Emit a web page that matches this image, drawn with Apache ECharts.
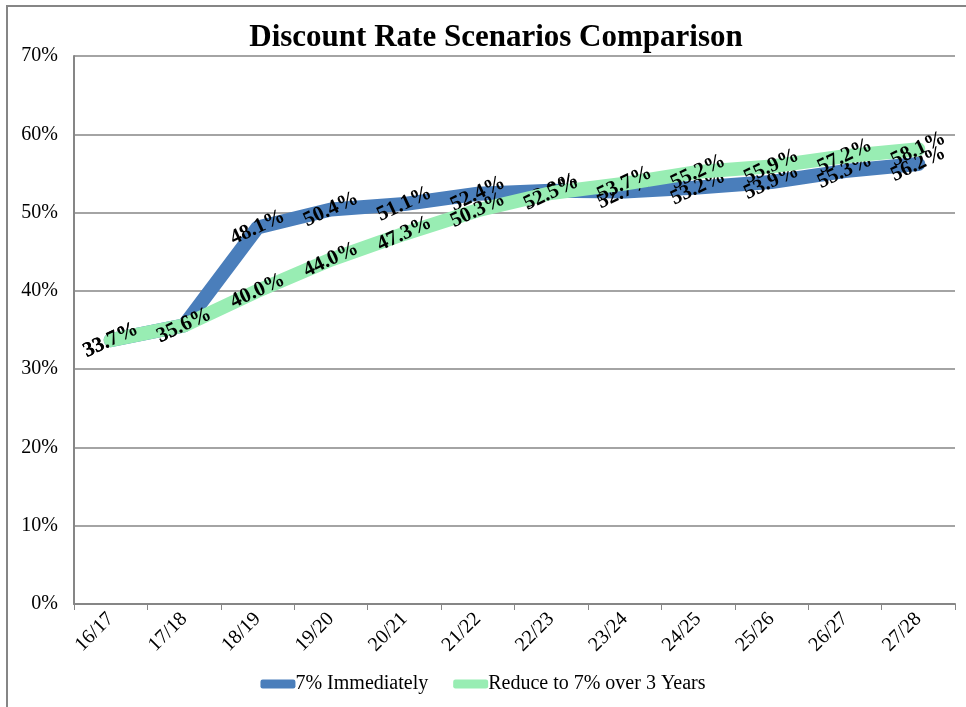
<!DOCTYPE html>
<html>
<head>
<meta charset="utf-8">
<script src="https://cdn.jsdelivr.net/npm/echarts@6/dist/echarts.min.js"></script>
<style>
  html, body { margin: 0; padding: 0; background: #ffffff; }
  #chart { width: 966px; height: 707px; }
</style>
</head>
<body>
<div id="chart"></div>
<script>
// Fiscal years on the category axis
const years = ['16/17', '17/18', '18/19', '19/20', '20/21', '21/22', '22/23', '23/24', '24/25', '25/26', '26/27', '27/28'];

// Funded ratio (%) under each discount-rate scenario
const immediate = [33.7, 35.6, 48.1, 50.4, 51.1, 52.4, 52.8, 52.7, 53.2, 53.9, 55.3, 56.2];
const phased = [33.7, 35.6, 40.0, 44.0, 47.3, 50.3, 52.5, 53.7, 55.2, 55.9, 57.2, 58.1];

const seriesNames = ['7% Immediately', 'Reduce to 7% over 3 Years'];
const seriesColors = ['#4a7ebb', '#98edb3'];

const serif = '"Liberation Serif", "Times New Roman", serif';
const gridGray = '#868686';

const chart = echarts.init(document.getElementById('chart'), null, { renderer: 'canvas' });

function lineSeries(name, data, color, z) {
  return {
    name: name,
    type: 'line',
    data: data,
    z: z,
    symbol: 'circle',
    symbolSize: 2,
    showSymbol: true,
    itemStyle: { color: color },
    lineStyle: { color: color, width: 14, cap: 'round', join: 'round' },
    label: {
      show: true,
      position: 'inside',
      rotate: 25,
      formatter: p => p.value.toFixed(1) + '%',
      color: '#000000',
      fontFamily: serif,
      fontWeight: 'bold',
      fontSize: 21
    },
    emphasis: { disabled: true },
    animation: false
  };
}

chart.setOption({
  animation: false,
  backgroundColor: '#ffffff',
  title: {
    text: 'Discount Rate Scenarios Comparison',
    left: 491,
    textAlign: 'center',
    top: 17,
    textStyle: { fontFamily: serif, fontWeight: 'bold', fontSize: 31, color: '#000000' }
  },
  legend: {
    bottom: 8,
    left: 'center',
    itemWidth: 35,
    itemHeight: 9,
    itemGap: 25,
    icon: 'roundRect',
    data: seriesNames.map((n, i) => ({ name: n, itemStyle: { color: seriesColors[i] } })),
    textStyle: { fontFamily: serif, fontSize: 20, color: '#000000', padding: [0, 0, 0, -5] }
  },
  grid: { left: 74, right: 11, top: 56, bottom: 103 },
  xAxis: {
    type: 'category',
    data: years,
    boundaryGap: true,
    axisLine: { lineStyle: { color: gridGray, width: 2 } },
    axisTick: { show: true, alignWithLabel: false, length: 6, lineStyle: { color: gridGray } },
    axisLabel: {
      rotate: 45,
      margin: 12,
      fontFamily: serif,
      fontSize: 20,
      color: '#000000'
    },
    splitLine: { show: false }
  },
  yAxis: {
    type: 'value',
    min: 0,
    max: 70,
    interval: 10,
    axisLine: { show: true, lineStyle: { color: gridGray, width: 2 } },
    axisTick: { show: false },
    axisLabel: {
      formatter: '{value}%',
      margin: 16,
      fontFamily: serif,
      fontSize: 20,
      color: '#000000'
    },
    splitLine: { show: true, lineStyle: { color: gridGray, width: 1.5 } }
  },
  graphic: [{
    type: 'polyline',
    shape: { points: [[7, 707], [7, 6], [966, 6]] },
    style: { stroke: gridGray, lineWidth: 2, fill: null },
    silent: true
  }],
  series: [
    lineSeries(seriesNames[0], immediate, seriesColors[0], 2),
    lineSeries(seriesNames[1], phased, seriesColors[1], 3)
  ]
});
</script>
</body>
</html>
